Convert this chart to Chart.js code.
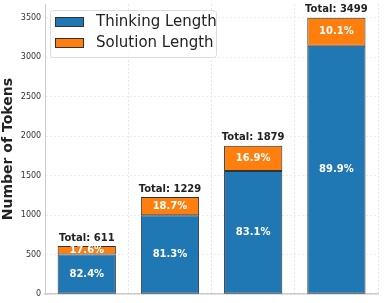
<!DOCTYPE html>
<html lang="en">
<head>
<meta charset="UTF-8">
<title>Tokens</title>
<script src="https://cdn.jsdelivr.net/npm/chart.js@4"></script>
<style>
  body{ margin:0; background:#fff; }
  #wrap{ width:384px; height:303px; }
</style>
</head>
<body>
<div id="wrap"><canvas id="c" width="384" height="303"></canvas></div>
<script>
const categories = ['A', 'B', 'C', 'D'];
const totals = [611, 1229, 1879, 3499];
const thinking = [503, 999, 1561, 3146];
const solution = [108, 230, 318, 353];
const thinkPct = ['82.4%', '81.3%', '83.1%', '89.9%'];
const solPct = ['17.6%', '18.7%', '16.9%', '10.1%'];
const yTicks = [0, 500, 1000, 1500, 2000, 2500, 3000, 3500];

const BLUE = '#1f77b4', ORANGE = '#ff7f0e';
const FONT = '"DejaVu Sans", sans-serif';

const labelPlugin = {
  id: 'labels',
  afterDatasetsDraw(chart) {
    const ctx = chart.ctx;
    const m0 = chart.getDatasetMeta(0), m1 = chart.getDatasetMeta(1);
    ctx.save();
    ctx.textAlign = 'center';
    ctx.textBaseline = 'middle';
    for (let i = 0; i < categories.length; i++) {
      const b0 = m0.data[i], b1 = m1.data[i];
      ctx.fillStyle = '#fff';
      ctx.font = 'bold 10px ' + FONT;
      ctx.fillText(thinkPct[i], b0.x, (b0.y + b0.base) / 2);
      ctx.fillText(solPct[i], b1.x, (b1.y + b1.base) / 2);
      ctx.fillStyle = '#222';
      ctx.fillText('Total: ' + totals[i], b1.x, b1.y - 8);
    }
    // legend
    const x = 50, y = 10, w = 166, h = 47;
    ctx.fillStyle = 'rgba(255,255,255,0.8)';
    ctx.strokeStyle = '#ddd';
    ctx.lineWidth = 1;
    ctx.beginPath();
    ctx.roundRect(x + 0.5, y + 0.5, w, h, 3);
    ctx.fill();
    ctx.stroke();
    const items = [['Thinking Length', BLUE], ['Solution Length', ORANGE]];
    ctx.textAlign = 'left';
    ctx.font = '15px ' + FONT;
    items.forEach((it, k) => {
      const ry = y + 7 + k * 21;
      ctx.fillStyle = it[1];
      ctx.fillRect(55, ry, 29, 10);
      ctx.strokeStyle = '#333';
      ctx.strokeRect(55.5, ry + 0.5, 28, 9);
      ctx.fillStyle = '#222';
      ctx.fillText(it[0], 96, ry + 5);
    });
    ctx.restore();
  }
};

new Chart(document.getElementById('c'), {
  type: 'bar',
  data: {
    labels: categories,
    datasets: [
      { label: 'Thinking Length', data: thinking, backgroundColor: BLUE, borderColor: '#333', borderWidth: 1, borderSkipped: false },
      { label: 'Solution Length', data: solution, backgroundColor: ORANGE, borderColor: '#333', borderWidth: 1, borderSkipped: false }
    ]
  },
  options: {
    responsive: false,
    animation: false,
    layout: { padding: { top: 4, right: 6, bottom: 8, left: 0 } },
    plugins: { legend: { display: false }, tooltip: { enabled: false } },
    datasets: { bar: { categoryPercentage: 1, barPercentage: 0.7 } },
    scales: {
      x: {
        stacked: true,
        ticks: { display: false },
        grid: { color: '#e6e6e6', lineWidth: 1, tickLength: 0 },
        border: { color: '#ccc', width: 1.5, dash: [2, 2] }
      },
      y: {
        stacked: true,
        min: 0,
        max: 3674,
        afterBuildTicks(axis) { axis.ticks = yTicks.map(v => ({ value: v })); },
        afterFit(axis) { axis.paddingTop = 0; },
        ticks: { font: { size: 8, family: FONT }, color: '#333', padding: 4, callback: v => String(v) },
        grid: { color: '#ececec', tickLength: 0 },
        border: { color: '#ccc', width: 1, dash: [2, 2] },
        title: { display: true, text: 'Number of Tokens', font: { size: 14, weight: 'bold', family: FONT }, color: '#222', padding: 0 }
      }
    }
  },
  plugins: [labelPlugin]
});
</script>
</body>
</html>
